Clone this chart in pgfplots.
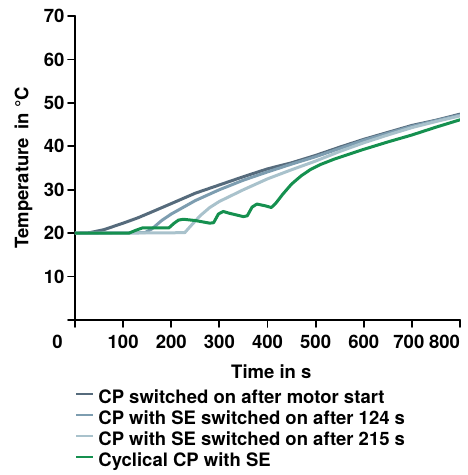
\documentclass[border=0pt]{standalone}
\usepackage{pgfplots}
\pgfplotsset{compat=1.18}
\usepackage{fontspec}
\setmainfont{TeX Gyre Heros}
\definecolor{cdark}{HTML}{566B7C}
\definecolor{cmed}{HTML}{7D9DB0}
\definecolor{clight}{HTML}{A9C2CC}
\definecolor{cgreen}{HTML}{15904F}
\begin{document}
\begin{tikzpicture}
\useasboundingbox (-75pt,-155pt) rectangle (392pt,320pt);
\begin{axis}[
  at={(0pt,0pt)}, anchor=south west,
  scale only axis, width=385pt, height=304pt,
  xmin=0, xmax=800, ymin=0, ymax=70,
  axis x line=bottom, axis y line=left,
  axis line style={-, line width=1.8pt, black},
  tick align=outside, major tick length=7pt,
  tick style={line width=1.8pt, black},
  xtick={0,100,...,800},
  xticklabels={{\makebox[0pt]{\hspace*{-35pt}0}},100,200,300,400,500,600,{\makebox[0pt]{\hspace*{-6pt}700}},{\makebox[0pt][r]{800}}},
  ytick={0,10,...,70},
  yticklabels={,10,20,30,40,50,60,70},
  /pgf/number format/assume math mode=true,
  every tick label/.style={font=\fontsize{18.5}{22}\selectfont\bfseries},
  xticklabel style={yshift=-5pt},
  xlabel={Time in s},
  ylabel={Temperature\, in °C},
  every axis x label/.style={at={(axis description cs:0.51,-0.169)}, anchor=center, font=\fontsize{18.5}{22}\selectfont\bfseries},
  every axis y label/.style={at={(axis description cs:-0.134,0.5)}, anchor=center, rotate=90, font=\fontsize{18.5}{22}\selectfont\bfseries},
  legend style={at={(axis description cs:0,0)}, anchor=north west, yshift=-70pt, draw=none, fill=none,
    font=\fontsize{18.5}{21}\selectfont\bfseries, inner xsep=0pt, inner ysep=0pt, row sep=3.5pt,
    nodes={inner xsep=4pt, inner ysep=0pt, text height=13.5pt, text depth=4pt}},
  legend cell align=left,
  legend image code/.code={\draw[#1, line width=2.2pt] (0pt,5pt) -- (17pt,5pt);},
  line join=round, line cap=round,
]
\addplot[cdark, line width=3pt] coordinates {
(0,20)(30,20.1)(60,20.8)(100,22.3)(130,23.5)(160,24.9)(200,26.8)(250,29.2)(300,31.1)(350,33.0)(400,34.8)(450,36.2)(500,37.9)(550,39.8)(600,41.6)(650,43.2)(700,44.8)(750,46.0)(800,47.4)};
\addlegendentry{CP switched on after motor start}
\addplot[cmed, line width=3pt] coordinates {
(0,20)(145,20.1)(160,21.0)(180,22.9)(200,24.4)(250,27.5)(300,30.0)(350,32.2)(400,34.1)(450,35.9)(500,37.6)(550,39.5)(600,41.4)(650,43.0)(700,44.6)(750,45.9)(800,47.2)};
\addlegendentry{CP with SE switched on after 124 s}
\addplot[clight, line width=3pt] coordinates {
(0,20)(228,20.1)(240,21.6)(260,24.0)(280,25.9)(300,27.3)(350,30.0)(400,32.5)(450,34.6)(500,36.6)(550,38.8)(600,40.8)(650,42.6)(700,44.3)(750,45.7)(800,47.0)};
\addlegendentry{CP with SE switched on after 215 s}
\addplot[cgreen, line width=3pt] coordinates {
(0,20)(112,20)(125,20.6)(140,21.2)(195,21.2)(205,22.2)(215,23.0)(225,23.2)(250,22.9)(280,22.3)(288,22.4)(298,24.4)(308,25.0)(320,24.6)(350,23.8)(358,24.0)(368,26.0)(378,26.7)(395,26.3)(408,25.9)(418,27.0)(432,29.0)(450,31.3)(470,33.2)(490,34.7)(510,35.8)(540,37.1)(570,38.2)(600,39.3)(650,41.0)(700,42.6)(750,44.4)(800,46.1)};
\addlegendentry{Cyclical CP with SE}
\end{axis}
\end{tikzpicture}
\end{document}
